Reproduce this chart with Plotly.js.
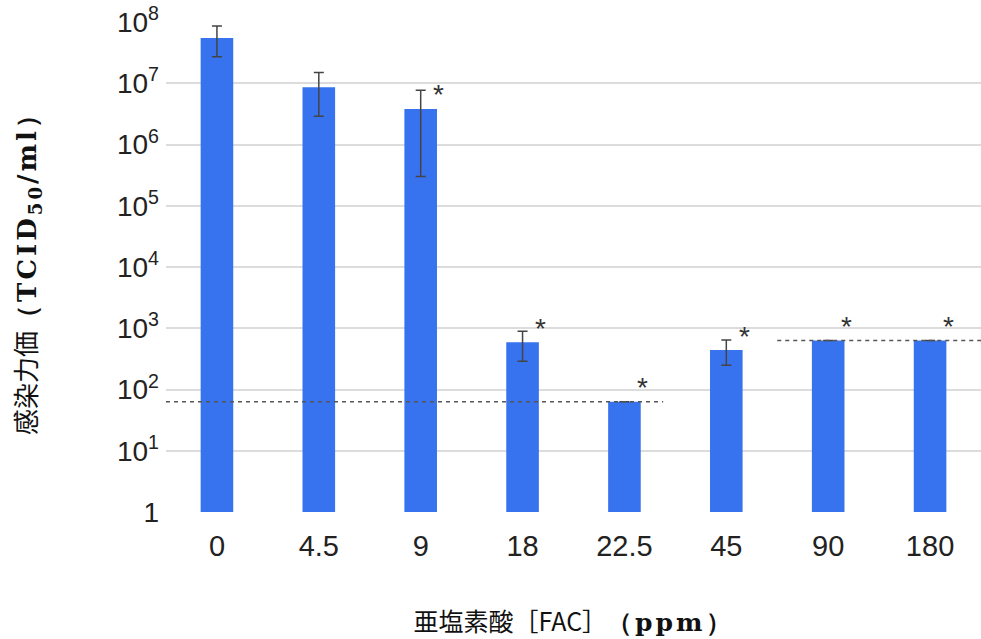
<!DOCTYPE html>
<html>
<head>
<meta charset="utf-8">
<script src="https://cdn.plot.ly/plotly-3.0.1.min.js"></script>
<style>html,body{margin:0;padding:0;background:#fff;}#chart{width:981px;height:639px;}</style>
</head>
<body>
<div id="chart"></div>
<script>
// ---- data ----
const categories = ['0', '4.5', '9', '18', '22.5', '45', '90', '180'];
const titerValues = [5.5e7, 8.6e6, 3.8e6, 590, 63, 440, 630, 630];
const errUpper = [8.6e7, 1.5e7, 7.7e6, 890, null, 640, null, null];
const errLower = [2.7e7, 2.9e6, 3.0e5, 290, null, 250, null, null];
const significant = [false, false, true, true, true, true, true, true];
const detectionLimits = [63, 630];
const limitSpans = [[0, 4], [6, 7]]; // category index ranges each limit applies to
const yTickVals = [1, 1e1, 1e2, 1e3, 1e4, 1e5, 1e6, 1e7, 1e8];
const yTickText = ['1', '10<sup>1</sup>', '10<sup>2</sup>', '10<sup>3</sup>', '10<sup>4</sup>',
                   '10<sup>5</sup>', '10<sup>6</sup>', '10<sup>7</sup>', '10<sup>8</sup>'];

const idx = categories.map((c, i) => i);

const bars = {
  type: 'bar',
  x: idx,
  y: titerValues,
  width: 0.32,
  marker: {color: '#3873ef', line: {width: 0}},
  error_y: {
    type: 'data',
    symmetric: false,
    array: titerValues.map((v, i) => errUpper[i] == null ? 0 : errUpper[i] - v),
    arrayminus: titerValues.map((v, i) => errLower[i] == null ? 0 : v - errLower[i]),
    color: '#444',
    thickness: 1.5,
    width: 5
  },
  hoverinfo: 'skip',
  showlegend: false
};

const limitTraces = detectionLimits.map((lim, k) => ({
  type: 'scatter',
  mode: 'lines',
  x: [limitSpans[k][0] - 0.5, limitSpans[k][1] + (k === 0 ? 0.38 : 0.5)],
  y: [lim, lim],
  line: {color: '#555', width: 1.5, dash: '4px,4px'},
  hoverinfo: 'skip',
  showlegend: false
}));

const annotations = [];
idx.forEach(i => {
  if (!significant[i]) return;
  annotations.push({
    x: i, y: Math.log10(titerValues[i]), xref: 'x', yref: 'y',
    text: '*', showarrow: false,
    xshift: 18, yshift: 14, yanchor: 'middle',
    font: {family: 'Liberation Sans, Arial, sans-serif', size: 28, color: '#333'}
  });
});

const serif = 'font-family:DejaVu Serif;font-weight:bold;letter-spacing:3px';

const layout = {
  width: 981, height: 639,
  margin: {l: 166, r: 0, t: 22, b: 127},
  paper_bgcolor: '#fff', plot_bgcolor: '#fff',
  showlegend: false,
  xaxis: {
    range: [-0.5, 7.5],
    tickvals: idx,
    ticktext: categories,
    showgrid: false,
    zeroline: false,
    showline: false,
    ticks: '',
    ticklen: 0,
    ticklabelstandoff: 14,
    tickfont: {family: 'Liberation Sans, Arial, sans-serif', size: 29, color: '#222'},
    title: {
      text: '亜塩素酸［FAC］<span style="' + serif + '">（ppm）</span>',
      font: {family: 'Noto Sans CJK JP, sans-serif', size: 25, color: '#111'},
      standoff: 52
    }
  },
  yaxis: {
    type: 'log',
    range: [0, 8],
    tickvals: yTickVals,
    ticktext: yTickText,
    showgrid: true,
    gridcolor: '#dcdcdc',
    gridwidth: 2,
    zeroline: false,
    showline: false,
    ticks: '',
    ticklen: 0,
    ticklabelstandoff: 6,
    tickfont: {family: 'Liberation Sans, Arial, sans-serif', size: 28, color: '#222'},
    title: {
      text: '感染力価<span style="' + serif + '">（TCID<sub>50</sub>/ml）</span>',
      font: {family: 'Noto Sans CJK JP, sans-serif', size: 26, color: '#111'},
      standoff: 72
    }
  },
  annotations: annotations
};

Plotly.newPlot('chart', [bars].concat(limitTraces), layout, {displayModeBar: false, staticPlot: true});
</script>
</body>
</html>
